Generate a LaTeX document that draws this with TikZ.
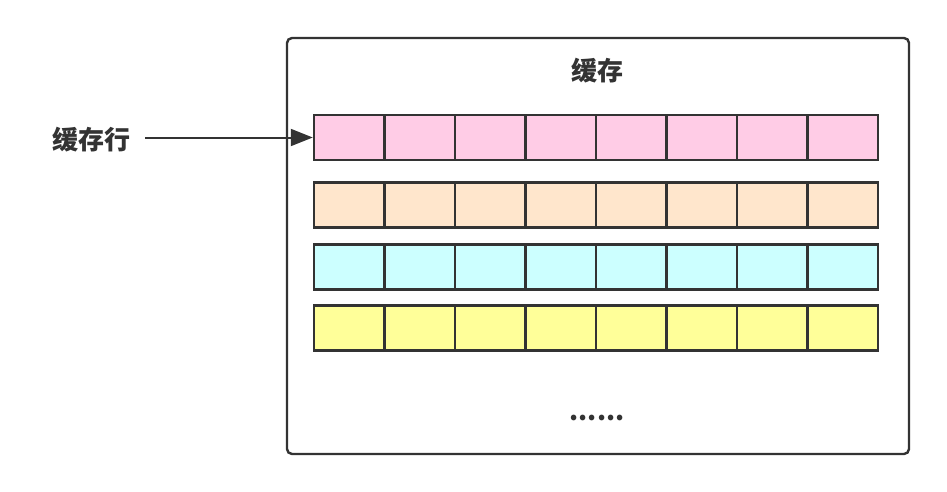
\documentclass[tikz,border=0pt]{standalone}
\usepackage{fontspec}
\newfontfamily\cjk{Noto Sans CJK SC}
\usetikzlibrary{arrows.meta}
\definecolor{linegray}{RGB}{51,51,51}
\definecolor{rowpink}{RGB}{255,204,230}
\definecolor{rowpeach}{RGB}{255,230,204}
\definecolor{rowcyan}{RGB}{204,255,255}
\definecolor{rowyellow}{RGB}{255,255,153}
\begin{document}
\begin{tikzpicture}[x=1pt,y=1pt,yscale=-1,xscale=1,
  cachebox/.style={draw=linegray,line width=2.4pt,rounded corners=5pt,fill=white,
    minimum width=622pt,minimum height=416pt,inner sep=0pt},
  cellbox/.style={draw=linegray,line width=2.4pt,minimum width=70.5pt,minimum height=45pt,inner sep=0pt},
  cjklabel/.style={font=\cjk\bfseries\fontsize{26}{30}\selectfont,text=linegray,inner sep=0pt},
  arrowline/.style={draw=linegray,line width=2pt,-{Triangle[length=22pt,width=17pt]}}]
\useasboundingbox (0,0) rectangle (947,492);

% Outer box
\node [cachebox] (cache) at (598,246) {};
% Text Node
\node [cjklabel] (title) at (597,71) {缓存};

% Cache rows
\foreach \r/\y/\c in {1/137.5/rowpink,2/205/rowpeach,3/267/rowcyan,4/328/rowyellow}{
  \foreach \k in {1,...,8}{
    \node [cellbox,fill=\c] (cell\r-\k) at ({314+70.5*(\k-0.5)},\y) {};
  }
}

% Text Node
\node [cjklabel] (rowlabel) at (91,140) {缓存行};
% Text Node
\node [cjklabel] (dots) at (597,418) {......};

% Arrow
\draw [arrowline,shorten <=15pt] (rowlabel.east |- cell1-1.west) -- (cell1-1.west);

\end{tikzpicture}
\end{document}
